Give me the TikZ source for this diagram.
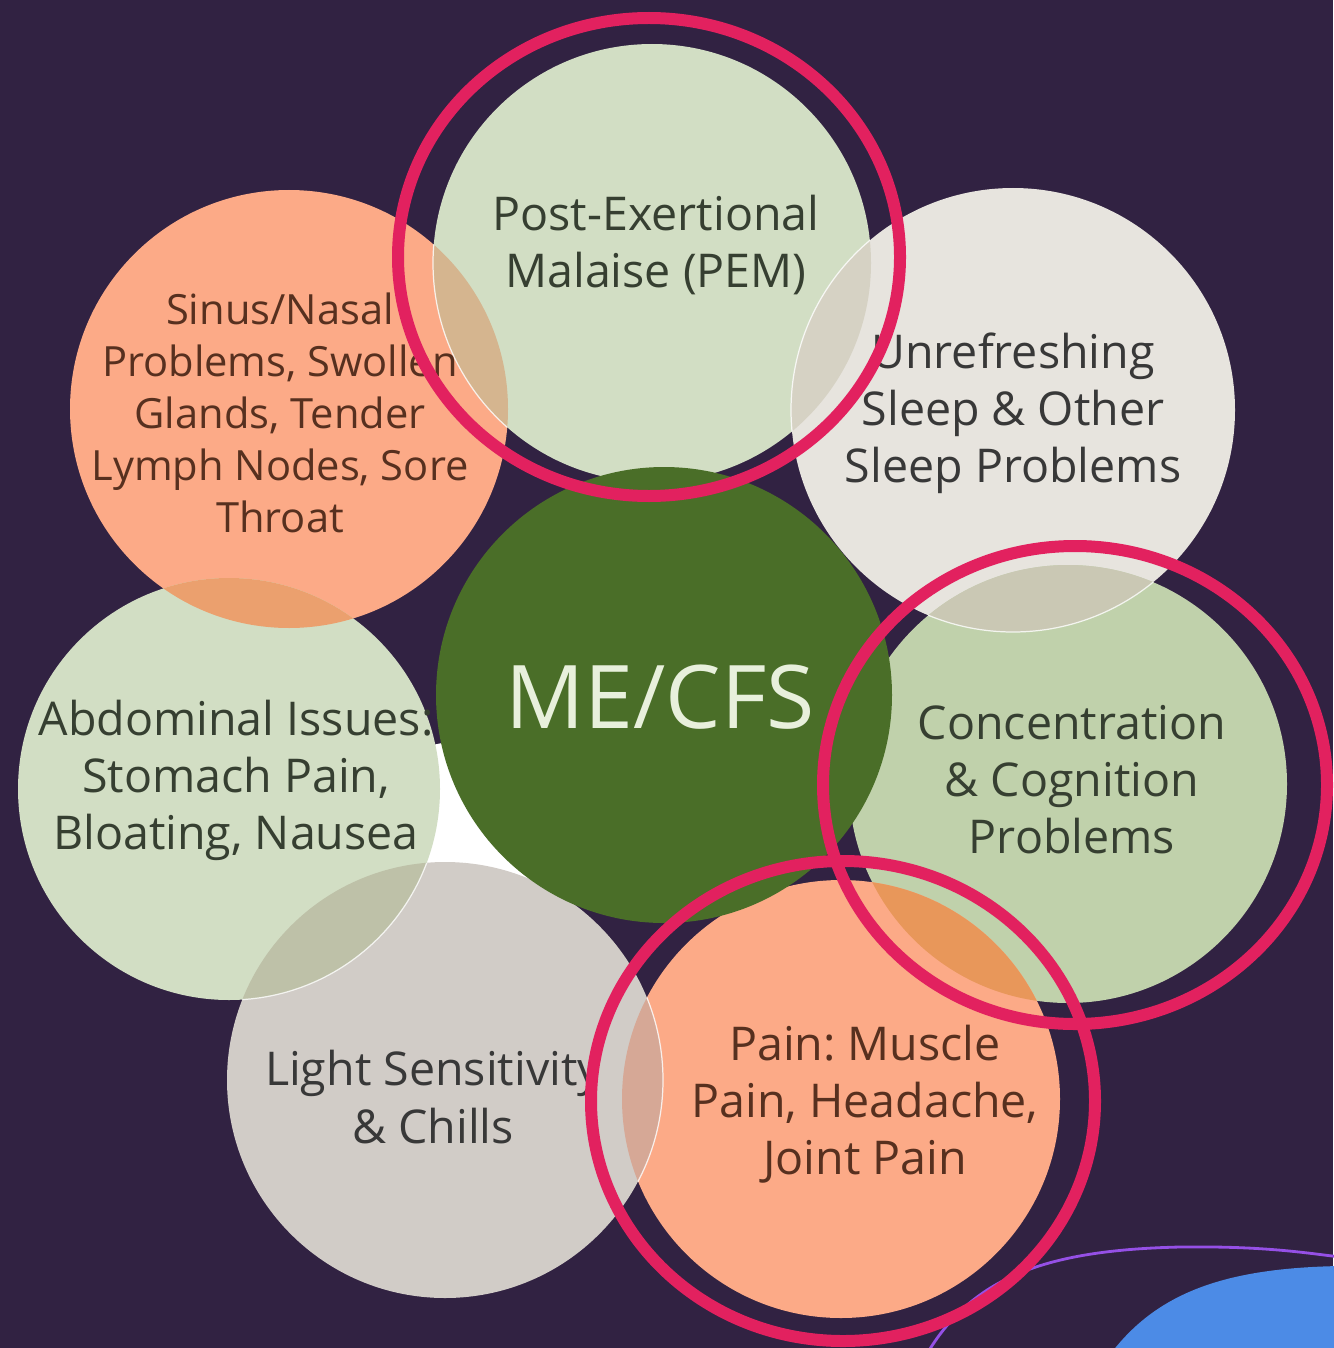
\documentclass[tikz,border=0pt]{standalone}
\usepackage{fontspec}
\setmainfont{Open Sans}
\usetikzlibrary{positioning}
\frenchspacing

\definecolor{bgpurple}{HTML}{312242}
\definecolor{ringred}{HTML}{E2215F}
\definecolor{salmon}{HTML}{FCAA87}
\definecolor{palegreen}{HTML}{D2DEC4}
\definecolor{midgreen}{HTML}{C0D1AB}
\definecolor{offwhite}{HTML}{E7E4DE}
\definecolor{warmgrey}{HTML}{D1CCC7}
\definecolor{darkgreen}{HTML}{4A6E28}
\definecolor{mintext}{HTML}{E8F0DC}
\definecolor{greentext}{HTML}{363F31}
\definecolor{browntext}{HTML}{57301F}
\definecolor{greytext}{HTML}{383838}
\definecolor{blobblue}{HTML}{4C8BE6}
\definecolor{linepurple}{HTML}{9550E6}
\definecolor{lenstan}{HTML}{D5B58F}
\definecolor{lenspale}{HTML}{D6D2C4}
\definecolor{lensgrey}{HTML}{CAC8B4}
\definecolor{lensorange}{HTML}{E8975A}
\definecolor{lensrose}{HTML}{D6A896}
\definecolor{lensolive}{HTML}{BEC1A8}
\definecolor{lenspeach}{HTML}{EBA06E}

\begin{document}
\begin{tikzpicture}[
    x=0.02cm, y=-0.02cm,
    txt/.style={align=center, inner sep=0pt, font=\fontsize{26.5}{32.5}\selectfont},
    smalltxt/.style={align=center, inner sep=0pt, font=\fontsize{23.7}{29.5}\selectfont},
    ring/.style={draw=ringred, line width=0.24cm},
    rim/.style={draw=white, opacity=0.8, line width=0.7pt}
]

% background and frame
\fill[bgpurple] (0,0) rectangle (1333,1348);
\useasboundingbox (0,0) rectangle (1333,1348);

% centres of the bubbles
\coordinate (mecfs) at (664,695);
\coordinate (pem) at (652,263);
\coordinate (sleep) at (1013,410);
\coordinate (cogn) at (1068,784);
\coordinate (pain) at (841,1099);
\coordinate (light) at (445,1080);
\coordinate (abdo) at (229,789);
\coordinate (sinus) at (289,409);

% white gap behind the left bubbles
\fill[white] (abdo) -- (mecfs) -- (light) -- cycle;

% outer bubbles
\fill[salmon] (sinus) circle [radius=219];
\fill[palegreen] (pem) circle [radius=219];
\fill[offwhite] (sleep) circle [radius=222];
\fill[midgreen] (cogn) circle [radius=219];
\fill[salmon] (pain) circle [radius=219];
\fill[warmgrey] (light) circle [radius=218];
\fill[palegreen] (abdo) circle [radius=211];

% overlaps
\begin{scope}
  \clip (sinus) circle [radius=219];
  \fill[lenstan] (pem) circle [radius=219];
  \draw[rim] (pem) circle [radius=219];
\end{scope}
\begin{scope}
  \clip (pem) circle [radius=219];
  \fill[lenspale] (sleep) circle [radius=222];
  \draw[rim] (sleep) circle [radius=222];
\end{scope}
\begin{scope}
  \clip (cogn) circle [radius=219];
  \fill[lensgrey] (sleep) circle [radius=222];
  \draw[rim] (sleep) circle [radius=222];
\end{scope}
\begin{scope}
  \clip (cogn) circle [radius=219];
  \fill[lensorange] (pain) circle [radius=219];
\end{scope}
\begin{scope}
  \clip (pain) circle [radius=219];
  \fill[lensrose] (light) circle [radius=218];
  \draw[rim] (light) circle [radius=218];
\end{scope}
\begin{scope}
  \clip (light) circle [radius=218];
  \fill[lensolive] (abdo) circle [radius=211];
  \draw[rim] (abdo) circle [radius=211];
\end{scope}
\begin{scope}
  \clip (abdo) circle [radius=211];
  \fill[lenspeach] (sinus) circle [radius=219];
\end{scope}

% centre bubble
\fill[darkgreen] (mecfs) circle [radius=228];

% labels
\node[txt, text=mintext, font=\fontsize{50}{55}\selectfont] (t-mecfs) at (660,697) {ME/CFS};
\node[txt, text=greentext] (t-pem) at (656,245) {Post-Exertional\\Malaise (PEM)};
\node[txt, text=greytext] (t-sleep) at (1013,413) {Unrefreshing\\Sleep \& Other\\Sleep Problems};
\node[txt, text=greentext] (t-cogn) at (1072,780) {Concentration\\\& Cognition\\Problems};
\node[txt, text=browntext] (t-pain) at (865,1104) {Pain: Muscle\\Pain, Headache,\\Joint Pain};
\node[txt, text=greytext] (t-light) at (433,1097) {Light Sensitivity\\\& Chills};
\node[txt, text=greentext] (t-abdo) at (236,780) {Abdominal Issues:\\Stomach Pain,\\Bloating, Nausea};
\node[smalltxt, text=browntext] (t-sinus) at (280,413) {Sinus/Nasal\\Problems, Swollen\\Glands, Tender\\Lymph Nodes, Sore\\Throat};

% corner decoration
\fill[blobblue] (1112,1352) .. controls (1160,1290) and (1230,1268) .. (1340,1266) -- (1340,1352) -- cycle;
\draw[linepurple, line width=1.6pt] (928,1352) .. controls (975,1275) and (1050,1250) .. (1180,1247) .. controls (1260,1246) and (1300,1252) .. (1340,1257);

% highlight rings
\draw[ring] (649,257) ellipse [x radius=251, y radius=239];
\draw[ring] (1075,785) ellipse [x radius=252, y radius=239];
\draw[ring] (843,1101) ellipse [x radius=252, y radius=240];

\end{tikzpicture}
\end{document}
